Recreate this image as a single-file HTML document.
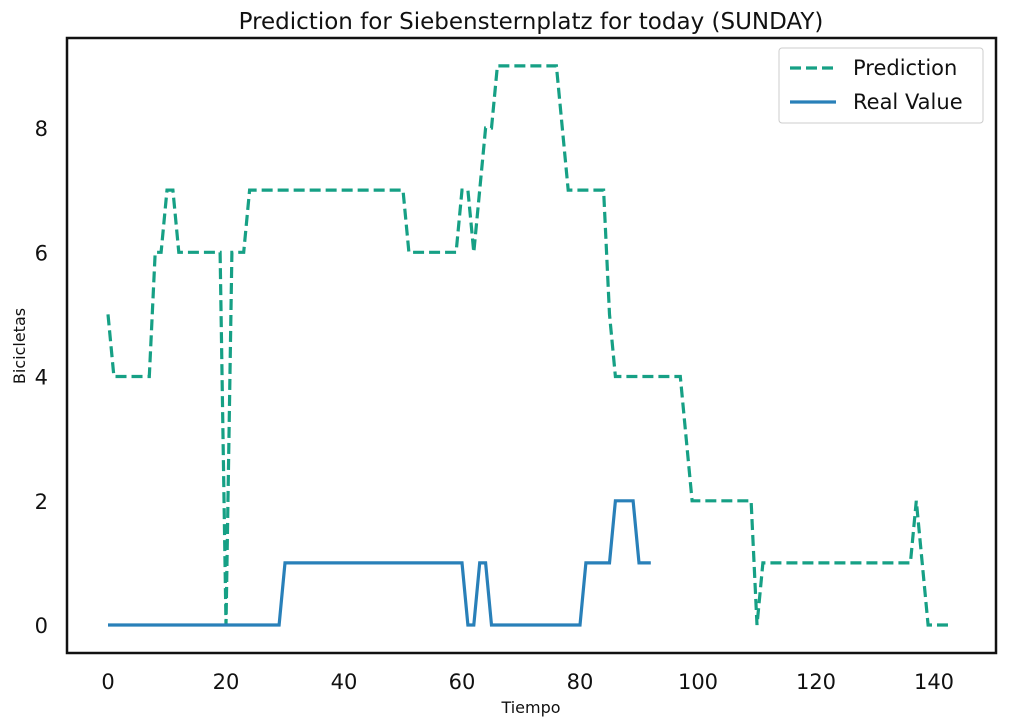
<!DOCTYPE html>
<html><head><meta charset="utf-8">
<style>
html,body{margin:0;padding:0;background:#fff;}
svg{display:block;font-family:"DejaVu Sans","Liberation Sans",sans-serif;}
</style></head>
<body>
<svg id="chart" width="1014" height="727" viewBox="0 0 1014 727">
<text x="531" y="29" text-anchor="middle" font-size="23" fill="#111">Prediction for Siebensternplatz for today (SUNDAY)</text>
<g id="ticks"></g>
<g id="series"></g>
<rect x="67" y="38" width="929" height="615" fill="none" stroke="#111" stroke-width="2.5"/>
<text x="531" y="713" text-anchor="middle" font-size="16" fill="#111">Tiempo</text>
<text transform="translate(25,346) rotate(-90)" text-anchor="middle" font-size="16" fill="#111">Bicicletas</text>
<g>
<rect x="779" y="48" width="204" height="75" rx="3" fill="#fff" stroke="#ccc" stroke-width="1"/>
<g>
<line x1="790" y1="68" x2="836" y2="68" stroke="#16a085" stroke-width="3.2" stroke-dasharray="11,5"/>
<text x="853" y="75" font-size="21" fill="#111">Prediction</text></g>
<g>
<line x1="790" y1="102" x2="836" y2="102" stroke="#2980b9" stroke-width="3.2"/>
<text x="853" y="109" font-size="21" fill="#111">Real Value</text></g>
</g>
</svg>
<script>
const xTicks=[0,20,40,60,80,100,120,140];
const yTicks=[0,2,4,6,8];
const prediction=[5,4,4,4,4,4,4,4,6,6,7,7,6,6,6,6,6,6,6,6,0,6,6,6,7,7,7,7,7,7,7,7,7,7,7,7,7,7,7,7,7,7,7,7,7,7,7,7,7,7,7,6,6,6,6,6,6,6,6,6,7,7,6,7,8,8,9,9,9,9,9,9,9,9,9,9,9,8,7,7,7,7,7,7,7,5,4,4,4,4,4,4,4,4,4,4,4,4,3,2,2,2,2,2,2,2,2,2,2,2,0,1,1,1,1,1,1,1,1,1,1,1,1,1,1,1,1,1,1,1,1,1,1,1,1,1,1,2,1,0,0,0,0,0];
const realValue=[0,0,0,0,0,0,0,0,0,0,0,0,0,0,0,0,0,0,0,0,0,0,0,0,0,0,0,0,0,0,1,1,1,1,1,1,1,1,1,1,1,1,1,1,1,1,1,1,1,1,1,1,1,1,1,1,1,1,1,1,1,0,0,1,1,0,0,0,0,0,0,0,0,0,0,0,0,0,0,0,0,1,1,1,1,1,2,2,2,2,1,1,1];
const NS='http://www.w3.org/2000/svg';
function xs(v){return 108+v*(934-108)/140;}
function ys(v){return 625-v*(625-128)/8;}
const tg=document.getElementById('ticks');
xTicks.forEach(t=>{
 const tx=document.createElementNS(NS,'text');
 tx.setAttribute('x',xs(t));tx.setAttribute('y',689);tx.setAttribute('text-anchor','middle');tx.setAttribute('font-size','21');tx.setAttribute('fill','#111');
 tx.textContent=t;
 
 
 tg.appendChild(tx);
});
yTicks.forEach(t=>{
 const tx=document.createElementNS(NS,'text');
 tx.setAttribute('x',48);tx.setAttribute('y',ys(t)+8);tx.setAttribute('text-anchor','end');tx.setAttribute('font-size','21');tx.setAttribute('fill','#111');
 tx.textContent=t;
 
 
 tg.appendChild(tx);
});
const sg=document.getElementById('series');
function line(arr,color,dash,name){
 const p=document.createElementNS(NS,'polyline');
 p.setAttribute('points',arr.map((v,i)=>xs(i).toFixed(1)+','+ys(v).toFixed(1)).join(' '));
 p.setAttribute('fill','none');p.setAttribute('stroke',color);p.setAttribute('stroke-width','3.2');
 if(dash)p.setAttribute('stroke-dasharray',dash);
 
 
 sg.appendChild(p);
}
line(prediction,'#16a085','11,5','prediction-line');
line(realValue,'#2980b9',null,'real-value-line');
</script>
</body></html>
